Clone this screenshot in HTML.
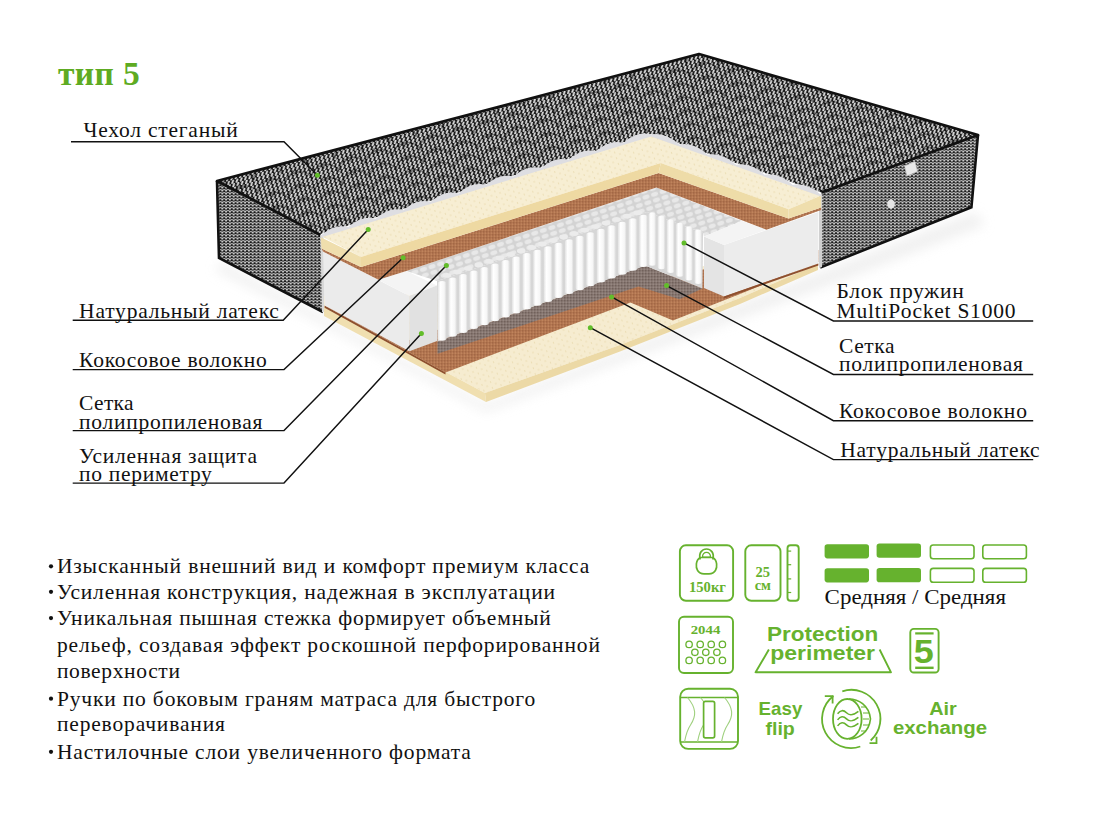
<!DOCTYPE html>
<html><head><meta charset="utf-8"><style>
html,body{margin:0;padding:0;background:#fff;}
body{width:1100px;height:814px;overflow:hidden;font-family:"Liberation Serif",serif;}
svg{display:block;}
</style></head><body>
<svg width="1100" height="814" viewBox="0 0 1100 814">
<rect width="1100" height="814" fill="#fff"/>

<defs>
 <pattern id="quilt" width="4.4" height="3.6" patternUnits="userSpaceOnUse" patternTransform="rotate(-15)">
  <rect width="4.4" height="3.6" fill="#161616"/>
  <path d="M0.9 3.0 L2.6 0.6" stroke="#dcdcdc" stroke-width="1.85" fill="none" stroke-linecap="round"/>
 </pattern>
 <pattern id="side" width="3.8" height="3.0" patternUnits="userSpaceOnUse">
  <rect width="3.8" height="3.0" fill="#181818"/>
  <path d="M0.6 0.4 L1.9 2.3 L3.2 0.4" stroke="#c8c8c8" stroke-width="1.02" fill="none" stroke-linecap="round"/>
 </pattern>
 <pattern id="scales" width="28" height="14" patternUnits="userSpaceOnUse" patternTransform="rotate(-15) translate(3,2)">
  <path d="M0,14 A14,11 0 0 1 28,14 M-14,7 A14,11 0 0 1 14,7 M14,7 A14,11 0 0 1 42,7" fill="none" stroke="#000" stroke-width="1.3"/>
 </pattern>
 <pattern id="sideR" width="3.8" height="3.0" patternUnits="userSpaceOnUse">
  <rect width="3.8" height="3.0" fill="#1c1c1c"/>
  <path d="M0.6 0.4 L1.9 2.3 L3.2 0.4" stroke="#c8c8c8" stroke-width="1.02" fill="none" stroke-linecap="round"/>
 </pattern>
 <pattern id="dots" width="9" height="6" patternUnits="userSpaceOnUse" patternTransform="rotate(-18)">
  <circle cx="2" cy="2" r="0.65" fill="#e6d6a8"/>
  <circle cx="6.5" cy="5" r="0.65" fill="#e6d6a8"/>
 </pattern>
 <pattern id="coco" width="3" height="3" patternUnits="userSpaceOnUse">
  <rect width="3" height="3" fill="#b27550"/>
  <circle cx="0.8" cy="0.8" r="0.65" fill="#935a3a"/>
  <circle cx="2.3" cy="2.1" r="0.6" fill="#cc9368"/>
 </pattern>
 <pattern id="mesh" width="3" height="3" patternUnits="userSpaceOnUse">
  <rect width="3" height="3" fill="#867670"/>
  <circle cx="0.8" cy="0.8" r="0.7" fill="#6a5a54"/>
  <circle cx="2.2" cy="2.2" r="0.6" fill="#a3958f"/>
 </pattern>
 <pattern id="sprtop" width="9" height="6" patternUnits="userSpaceOnUse" patternTransform="rotate(-18)">
  <rect width="9" height="6" fill="#d3d3d3"/>
  <ellipse cx="4.5" cy="3" rx="3.6" ry="2.3" fill="#e8e8e8"/>
 </pattern>
 <linearGradient id="col" x1="0" y1="0" x2="1" y2="0">
  <stop offset="0" stop-color="#e2e2e2"/>
  <stop offset="0.3" stop-color="#ffffff"/>
  <stop offset="0.75" stop-color="#f6f6f6"/>
  <stop offset="1" stop-color="#d6d6d6"/>
 </linearGradient>
 <filter id="blur" x="-20%" y="-20%" width="140%" height="140%"><feGaussianBlur stdDeviation="6"/></filter>
</defs>

<polygon points="222,262 323,316 486,404 820,272 975,212 985,225 830,285 486,412 323,325 215,270" fill="#e4e4e4" filter="url(#blur)" opacity="0.55"/>
<polygon points="217,181 699,54 978,135 821.5,192.5 651,134 320.5,234" fill="url(#quilt)" />
<polygon points="217,181 699,54 978,135 821.5,192.5 651,134 320.5,234" fill="url(#scales)" opacity="0.45"/>
<polygon points="217,181 320.5,235 323,312 219,258" fill="url(#side)" />
<polygon points="821.5,192.5 978,135 971.4,207.3 820.2,267.5" fill="url(#sideR)" />
<polyline points="320.5,235 217,181 699,54 978,135 821.5,192.5" fill="none" stroke="#111" stroke-width="2.7" stroke-linejoin="round"/>
<polyline points="217,181 219,258 323,312" fill="none" stroke="#111" stroke-width="2.6"/>
<polyline points="978,135 971.4,207.3 820.2,267.5" fill="none" stroke="#111" stroke-width="2.6"/>
<polygon points="904.5,166 915,161.5 917.5,171.5 907,176" fill="#e8e8e8" stroke="#bbb" stroke-width="0.6"/>
<ellipse cx="891" cy="204" rx="3.8" ry="4.6" fill="#e4e4e4"/>
<polygon points="320.5,234.5 323.5,236 325,312 322,312" fill="#d8d8d8" />
<polygon points="819,195 822,194 822,267 819,268" fill="#d0d0d0" />
<polygon points="324,296 324,307 485,393 620,345 740,298 818,264 818,240 600,290" fill="#f6ecd0" />
<polygon points="324,296 324,307 485,393 620,345 740,298 818,264 818,240 600,290" fill="url(#dots)" />
<polygon points="324,307 485,393 486,402 324,316" fill="#f0dfb0" />
<polygon points="485,393 620,345 740,298 818,264 818,270 740,304 620,351.6 486,402" fill="#ecd9a6" />
<polygon points="324.6,305.5 445.5,372.4 630.4,302.4 672.9,320.4 740,294 818.4,262 818.4,250 700,270 437,330 409.4,340" fill="url(#coco)" />
<polygon points="324.6,305.5 445.5,372.4 445.5,374.6 324.6,307.7" fill="#8e4f2e" />
<polygon points="437.5,341.5 645.1,265.5 702.4,288.5 679.5,299.3 638.5,286.4 437.5,353.8" fill="url(#mesh)" />
<polygon points="406.4,271 656.4,187.5 742,221 704,236.5 703,233 647,212 437,281" fill="url(#sprtop)" />
<polygon points="437,281 647,212 703,233 702.4,288.5 645.1,265.5 437.5,341.5" fill="#d6d6d6" />
<ellipse cx="447.0" cy="275.4" rx="4.3" ry="2.4" fill="#ececec"/>
<ellipse cx="457.6" cy="271.9" rx="4.3" ry="2.4" fill="#ececec"/>
<ellipse cx="468.2" cy="268.4" rx="4.3" ry="2.4" fill="#ececec"/>
<ellipse cx="478.8" cy="264.9" rx="4.3" ry="2.4" fill="#ececec"/>
<ellipse cx="489.4" cy="261.4" rx="4.3" ry="2.4" fill="#ececec"/>
<ellipse cx="500.0" cy="257.9" rx="4.3" ry="2.4" fill="#ececec"/>
<ellipse cx="510.6" cy="254.5" rx="4.3" ry="2.4" fill="#ececec"/>
<ellipse cx="521.2" cy="251.0" rx="4.3" ry="2.4" fill="#ececec"/>
<ellipse cx="531.8" cy="247.5" rx="4.3" ry="2.4" fill="#ececec"/>
<ellipse cx="542.4" cy="244.0" rx="4.3" ry="2.4" fill="#ececec"/>
<ellipse cx="553.0" cy="240.5" rx="4.3" ry="2.4" fill="#ececec"/>
<ellipse cx="563.6" cy="237.0" rx="4.3" ry="2.4" fill="#ececec"/>
<ellipse cx="574.2" cy="233.6" rx="4.3" ry="2.4" fill="#ececec"/>
<ellipse cx="584.8" cy="230.1" rx="4.3" ry="2.4" fill="#ececec"/>
<ellipse cx="595.4" cy="226.6" rx="4.3" ry="2.4" fill="#ececec"/>
<ellipse cx="606.0" cy="223.1" rx="4.3" ry="2.4" fill="#ececec"/>
<ellipse cx="616.6" cy="219.6" rx="4.3" ry="2.4" fill="#ececec"/>
<ellipse cx="627.2" cy="216.1" rx="4.3" ry="2.4" fill="#ececec"/>
<ellipse cx="637.8" cy="212.7" rx="4.3" ry="2.4" fill="#ececec"/>
<rect x="437.8" y="281.0" width="8.6" height="59.7" rx="4.3" ry="2.5" fill="url(#col)"/>
<rect x="448.4" y="277.5" width="8.6" height="59.3" rx="4.3" ry="2.5" fill="url(#col)"/>
<rect x="459.0" y="274.0" width="8.6" height="58.9" rx="4.3" ry="2.5" fill="url(#col)"/>
<rect x="469.6" y="270.6" width="8.6" height="58.5" rx="4.3" ry="2.5" fill="url(#col)"/>
<rect x="480.2" y="267.1" width="8.6" height="58.1" rx="4.3" ry="2.5" fill="url(#col)"/>
<rect x="490.8" y="263.6" width="8.6" height="57.7" rx="4.3" ry="2.5" fill="url(#col)"/>
<rect x="501.4" y="260.1" width="8.6" height="57.3" rx="4.3" ry="2.5" fill="url(#col)"/>
<rect x="512.0" y="256.6" width="8.6" height="56.9" rx="4.3" ry="2.5" fill="url(#col)"/>
<rect x="522.6" y="253.1" width="8.6" height="56.5" rx="4.3" ry="2.5" fill="url(#col)"/>
<rect x="533.2" y="249.7" width="8.6" height="56.1" rx="4.3" ry="2.5" fill="url(#col)"/>
<rect x="543.8" y="246.2" width="8.6" height="55.7" rx="4.3" ry="2.5" fill="url(#col)"/>
<rect x="554.4" y="242.7" width="8.6" height="55.3" rx="4.3" ry="2.5" fill="url(#col)"/>
<rect x="565.0" y="239.2" width="8.6" height="54.9" rx="4.3" ry="2.5" fill="url(#col)"/>
<rect x="575.6" y="235.7" width="8.6" height="54.5" rx="4.3" ry="2.5" fill="url(#col)"/>
<rect x="586.2" y="232.2" width="8.6" height="54.1" rx="4.3" ry="2.5" fill="url(#col)"/>
<rect x="596.8" y="228.8" width="8.6" height="53.7" rx="4.3" ry="2.5" fill="url(#col)"/>
<rect x="607.4" y="225.3" width="8.6" height="53.3" rx="4.3" ry="2.5" fill="url(#col)"/>
<rect x="618.0" y="221.8" width="8.6" height="52.9" rx="4.3" ry="2.5" fill="url(#col)"/>
<rect x="628.6" y="218.3" width="8.6" height="52.5" rx="4.3" ry="2.5" fill="url(#col)"/>
<rect x="639.2" y="214.8" width="8.6" height="52.1" rx="4.3" ry="2.5" fill="url(#col)"/>
<rect x="648.5" y="212.4" width="7.6" height="53.3" rx="3.8" ry="2.5" fill="url(#col)"/>
<rect x="657.7" y="215.8" width="7.6" height="53.5" rx="3.8" ry="2.5" fill="url(#col)"/>
<rect x="666.9" y="219.3" width="7.6" height="53.8" rx="3.8" ry="2.5" fill="url(#col)"/>
<rect x="676.1" y="222.7" width="7.6" height="54.0" rx="3.8" ry="2.5" fill="url(#col)"/>
<rect x="685.3" y="226.2" width="7.6" height="54.3" rx="3.8" ry="2.5" fill="url(#col)"/>
<rect x="694.5" y="229.6" width="7.6" height="54.5" rx="3.8" ry="2.5" fill="url(#col)"/>
<polygon points="323.1,251.6 409.4,295.9 409.4,351.2 324.6,305.5" fill="#ebebeb" />
<polygon points="378.4,279.7 406.4,271 437,285.5 409.4,295.9" fill="#f4f4f4" />
<polygon points="409.4,295.9 437,285.5 437,340.9 409.4,351.2" fill="#e1e1e1" />
<polygon points="704,236.5 724,245 724,296.6 704,288" fill="#e4e4e4" />
<polygon points="724,245 818.4,212 818.4,263.5 724,296.6" fill="#ececec" />
<polygon points="704,236.5 742,221 766.5,229.7 724,245" fill="#f4f4f4" />
<polygon points="724,296.6 818.4,263.5 818.4,265.5 724,298.6" fill="#8e4f2e" />
<polygon points="321.5,248.6 361,267.1 658.6,173 788.6,218.6 821.2,207.6 821.2,210 766.5,229.7 656.4,187.5 406.4,271 378.4,279.7 323,251.6" fill="url(#coco)" />
<polygon points="320.8,236 651,135 821.2,195.4 788.6,209.2 660.8,163.1 361,256.9" fill="#f7eed3" />
<polygon points="320.8,236 651,135 821.2,195.4 788.6,209.2 660.8,163.1 361,256.9" fill="url(#dots)" />
<polygon points="320.8,237.2 361,256.9 361,267.1 321.5,248.6" fill="#efdead" />
<polygon points="361,256.9 660.8,163.1 658.6,173 361,267.1" fill="#eed9a2" />
<polygon points="660.8,163.1 788.6,209.2 788.6,218.6 658.6,173" fill="#eedca8" />
<polygon points="788.6,209.2 821.2,195.4 821.2,207.6 788.6,218.6" fill="#efdead" />
<path d="M320.8,235.5 Q334.6,223.3 348.3,227.1 Q362.1,214.9 375.8,218.7 Q389.6,206.5 403.4,210.2 Q417.1,198.0 430.9,201.8 Q444.6,189.6 458.4,193.4 Q472.1,181.2 485.9,185.0 Q499.7,172.8 513.4,176.6 Q527.2,164.4 540.9,168.2 Q554.7,156.0 568.5,159.8 Q582.2,147.5 596.0,151.3 Q609.7,139.1 623.5,142.9 Q637.2,130.7 651.0,134.5 Q665.2,131.5 679.4,144.6 Q693.5,141.6 707.7,154.7 Q721.9,151.7 736.1,164.8 Q750.3,161.8 764.5,174.8 Q778.7,171.9 792.8,184.9 Q807.0,182.0 821.2,195.0 L821.2,196.5 L651,136.5 L320.8,237.5 Z" fill="#dedee2"/>
<polyline points="71,141.7 284,141.7 317.4,175.2" fill="none" stroke="#111" stroke-width="1.45"/>
<circle cx="317.4" cy="175.2" r="2.5" fill="#62bd2a"/>
<polyline points="72.7,320.2 283.2,320.2 368.2,229.5" fill="none" stroke="#111" stroke-width="1.45"/>
<circle cx="368.2" cy="229.5" r="2.5" fill="#62bd2a"/>
<polyline points="72.7,369.6 284,369.6 403.1,257.8" fill="none" stroke="#111" stroke-width="1.45"/>
<circle cx="403.1" cy="257.8" r="2.5" fill="#62bd2a"/>
<polyline points="72.7,430.6 284,430.6 446.4,265.5" fill="none" stroke="#111" stroke-width="1.45"/>
<circle cx="446.4" cy="265.5" r="2.5" fill="#62bd2a"/>
<polyline points="72.7,483.1 284,483.1 421.4,333.6" fill="none" stroke="#111" stroke-width="1.45"/>
<circle cx="421.4" cy="333.6" r="2.5" fill="#62bd2a"/>
<polyline points="1033.2,320.9 833.4,320.9 684,242.9" fill="none" stroke="#111" stroke-width="1.45"/>
<circle cx="684" cy="242.9" r="2.5" fill="#62bd2a"/>
<polyline points="1033.2,374.4 833.4,374.4 666.6,285.6" fill="none" stroke="#111" stroke-width="1.45"/>
<circle cx="666.6" cy="285.6" r="2.5" fill="#62bd2a"/>
<polyline points="1033.2,420.7 833.4,420.7 611.6,296.9" fill="none" stroke="#111" stroke-width="1.45"/>
<circle cx="611.6" cy="296.9" r="2.5" fill="#62bd2a"/>
<polyline points="1033.2,459.6 833.4,459.6 590.3,327.7" fill="none" stroke="#111" stroke-width="1.45"/>
<circle cx="590.3" cy="327.7" r="2.5" fill="#62bd2a"/>
<text x="57.9" y="84.8" font-family="Liberation Serif" font-size="33.5" font-weight="bold" fill="#5eab22" textLength="81.8" lengthAdjust="spacing">тип 5</text>
<text x="83.5" y="137" font-family="Liberation Serif" font-size="21.5" font-weight="normal" fill="#111" textLength="154.2" lengthAdjust="spacing">Чехол стеганый</text>
<text x="79.1" y="317.7" font-family="Liberation Serif" font-size="21.5" font-weight="normal" fill="#111" textLength="199.8" lengthAdjust="spacing">Натуральный латекс</text>
<text x="79.1" y="367.3" font-family="Liberation Serif" font-size="21.5" font-weight="normal" fill="#111" textLength="187.6" lengthAdjust="spacing">Кокосовое волокно</text>
<text x="79.1" y="409.8" font-family="Liberation Serif" font-size="21.5" font-weight="normal" fill="#111" textLength="54.5" lengthAdjust="spacing">Сетка</text>
<text x="79.1" y="428.6" font-family="Liberation Serif" font-size="21.5" font-weight="normal" fill="#111" textLength="183.2" lengthAdjust="spacing">полипропиленовая</text>
<text x="79.1" y="462.5" font-family="Liberation Serif" font-size="21.5" font-weight="normal" fill="#111" textLength="177.9" lengthAdjust="spacing">Усиленная защита</text>
<text x="79.1" y="480.6" font-family="Liberation Serif" font-size="21.5" font-weight="normal" fill="#111" textLength="132.7" lengthAdjust="spacing">по периметру</text>
<text x="836.5" y="298" font-family="Liberation Serif" font-size="21.5" font-weight="normal" fill="#111" textLength="127.2" lengthAdjust="spacing">Блок пружин</text>
<text x="836.5" y="317.9" font-family="Liberation Serif" font-size="21.5" font-weight="normal" fill="#111" textLength="178.9" lengthAdjust="spacing">MultiPocket S1000</text>
<text x="839" y="352.7" font-family="Liberation Serif" font-size="21.5" font-weight="normal" fill="#111" textLength="55.5" lengthAdjust="spacing">Сетка</text>
<text x="839" y="370.5" font-family="Liberation Serif" font-size="21.5" font-weight="normal" fill="#111" textLength="184" lengthAdjust="spacing">полипропиленовая</text>
<text x="839" y="417.6" font-family="Liberation Serif" font-size="21.5" font-weight="normal" fill="#111" textLength="187.9" lengthAdjust="spacing">Кокосовое волокно</text>
<text x="840.3" y="456.6" font-family="Liberation Serif" font-size="21.5" font-weight="normal" fill="#111" textLength="199.3" lengthAdjust="spacing">Натуральный латекс</text>
<text x="56.9" y="573.1" font-family="Liberation Serif" font-size="21.5" font-weight="normal" fill="#111" textLength="532.3" lengthAdjust="spacing">Изысканный внешний вид и комфорт премиум класса</text>
<circle cx="51" cy="566.3000000000001" r="2.1" fill="#111"/>
<text x="56.9" y="598.6" font-family="Liberation Serif" font-size="21.5" font-weight="normal" fill="#111" textLength="498.1" lengthAdjust="spacing">Усиленная конструкция, надежная в эксплуатации</text>
<circle cx="51" cy="591.8000000000001" r="2.1" fill="#111"/>
<text x="56.9" y="624.9" font-family="Liberation Serif" font-size="21.5" font-weight="normal" fill="#111" textLength="493.9" lengthAdjust="spacing">Уникальная пышная стежка формирует объемный</text>
<circle cx="51" cy="618.1" r="2.1" fill="#111"/>
<text x="56.9" y="652.0" font-family="Liberation Serif" font-size="21.5" font-weight="normal" fill="#111" textLength="543" lengthAdjust="spacing">рельеф, создавая эффект роскошной перфорированной</text>
<text x="56.9" y="678.2" font-family="Liberation Serif" font-size="21.5" font-weight="normal" fill="#111" textLength="123" lengthAdjust="spacing">поверхности</text>
<text x="56.9" y="705.5" font-family="Liberation Serif" font-size="21.5" font-weight="normal" fill="#111" textLength="478.3" lengthAdjust="spacing">Ручки по боковым граням матраса для быстрого</text>
<circle cx="51" cy="698.7" r="2.1" fill="#111"/>
<text x="56.9" y="731.4" font-family="Liberation Serif" font-size="21.5" font-weight="normal" fill="#111" textLength="168" lengthAdjust="spacing">переворачивания</text>
<text x="56.9" y="758.6" font-family="Liberation Serif" font-size="21.5" font-weight="normal" fill="#111" textLength="414" lengthAdjust="spacing">Настилочные слои увеличенного формата</text>
<circle cx="51" cy="751.8000000000001" r="2.1" fill="#111"/>
<rect x="679.9" y="545.3" width="53.2" height="55.5" rx="6" fill="none" stroke="#66b22e" stroke-width="1.9"/>
<path d="M700.2,559.5 C696.5,545.5 716.5,545.5 712.8,559.5" fill="none" stroke="#66b22e" stroke-width="1.7"/>
<path d="M702.6,557.2 C701.8,550.8 711.2,550.8 710.4,557.2 Z" fill="none" stroke="#66b22e" stroke-width="1.3"/>
<path d="M700.2,557.5 C695.5,560 695.6,567.5 697.6,570.5 C699,572.8 701.5,573.8 704,573.8 L709,573.8 C711.5,573.8 714,572.8 715.4,570.5 C717.4,567.5 717.5,560 712.8,557.5 Z" fill="none" stroke="#66b22e" stroke-width="1.7"/>
<text x="689" y="591.6" font-family="Liberation Serif" font-weight="bold" font-size="14.5" fill="#66b22e" textLength="37" lengthAdjust="spacingAndGlyphs">150кг</text>
<rect x="745.3" y="545.3" width="35.2" height="55.5" rx="6" fill="none" stroke="#66b22e" stroke-width="1.9"/>
<text x="762.8" y="576.8" font-family="Liberation Serif" font-weight="bold" font-size="14.5" fill="#66b22e" text-anchor="middle">25</text>
<text x="762.8" y="589.8" font-family="Liberation Serif" font-weight="bold" font-size="14.5" fill="#66b22e" text-anchor="middle">см</text>
<rect x="787.5" y="545.3" width="11.2" height="55.5" rx="3" fill="none" stroke="#66b22e" stroke-width="1.9"/>
<line x1="788" y1="551.1" x2="791.2" y2="551.1" stroke="#66b22e" stroke-width="1.2"/>
<line x1="788" y1="564.7" x2="791.2" y2="564.7" stroke="#66b22e" stroke-width="1.2"/>
<line x1="788" y1="578.9" x2="791.2" y2="578.9" stroke="#66b22e" stroke-width="1.2"/>
<line x1="788" y1="592.5" x2="791.2" y2="592.5" stroke="#66b22e" stroke-width="1.2"/>
<rect x="824.6" y="544.2" width="44.4" height="14.2" rx="2.8" fill="#66b22e"/>
<rect x="876.6" y="543.6" width="44.4" height="14.2" rx="2.8" fill="#66b22e"/>
<rect x="930.4" y="545.0" width="43.6" height="13.8" rx="2.8" fill="none" stroke="#66b22e" stroke-width="1.6"/>
<rect x="982.8" y="545.0" width="43.6" height="13.8" rx="2.8" fill="none" stroke="#66b22e" stroke-width="1.6"/>
<rect x="824.6" y="568.2" width="44.4" height="14.2" rx="2.8" fill="#66b22e"/>
<rect x="876.6" y="568" width="44.4" height="14.2" rx="2.8" fill="#66b22e"/>
<rect x="930.4" y="568.4" width="43.6" height="13.8" rx="2.8" fill="none" stroke="#66b22e" stroke-width="1.6"/>
<rect x="982.8" y="568.4" width="43.6" height="13.8" rx="2.8" fill="none" stroke="#66b22e" stroke-width="1.6"/>
<text x="824.6" y="604" font-family="Liberation Serif" font-size="20" fill="#111" textLength="181.4" lengthAdjust="spacingAndGlyphs">Средняя / Средняя</text>
<rect x="679" y="616.8" width="54" height="56.2" rx="5" fill="none" stroke="#66b22e" stroke-width="1.9"/>
<text x="690.7" y="634" font-family="Liberation Serif" font-weight="bold" font-size="13.5" fill="#66b22e" textLength="29.7" lengthAdjust="spacingAndGlyphs">2044</text>
<circle cx="689.1" cy="644.4" r="3.2" fill="none" stroke="#66b22e" stroke-width="1.3"/>
<circle cx="700.2" cy="644.4" r="3.2" fill="none" stroke="#66b22e" stroke-width="1.3"/>
<circle cx="711.2" cy="644.4" r="3.2" fill="none" stroke="#66b22e" stroke-width="1.3"/>
<circle cx="722.4" cy="644.4" r="3.2" fill="none" stroke="#66b22e" stroke-width="1.3"/>
<circle cx="694.9" cy="652.3" r="3.2" fill="none" stroke="#66b22e" stroke-width="1.3"/>
<circle cx="705.8" cy="652.3" r="3.2" fill="none" stroke="#66b22e" stroke-width="1.3"/>
<circle cx="716.9" cy="652.3" r="3.2" fill="none" stroke="#66b22e" stroke-width="1.3"/>
<circle cx="689.1" cy="660.4" r="3.2" fill="none" stroke="#66b22e" stroke-width="1.3"/>
<circle cx="700.2" cy="660.4" r="3.2" fill="none" stroke="#66b22e" stroke-width="1.3"/>
<circle cx="711.2" cy="660.4" r="3.2" fill="none" stroke="#66b22e" stroke-width="1.3"/>
<circle cx="722.4" cy="660.4" r="3.2" fill="none" stroke="#66b22e" stroke-width="1.3"/>
<path d="M768.9,649.5 L755.6,672.3 L891,672.3 L879.6,649.5" fill="none" stroke="#66b22e" stroke-width="1.9" stroke-linejoin="round"/>
<text x="767" y="641.1" font-family="Liberation Sans" font-weight="bold" font-size="21" fill="#66b22e" textLength="111.3" lengthAdjust="spacingAndGlyphs">Protection</text>
<text x="770.2" y="659.6" font-family="Liberation Sans" font-weight="bold" font-size="21" fill="#66b22e" textLength="104.9" lengthAdjust="spacingAndGlyphs">perimeter</text>
<rect x="910.3" y="628.9" width="28.3" height="43.6" rx="3.5" fill="none" stroke="#66b22e" stroke-width="1.9"/>
<rect x="915.2" y="632.3" width="18.4" height="2.2" fill="#66b22e"/>
<rect x="915.2" y="666.6" width="18.4" height="2.4" fill="#66b22e"/>
<text x="923.8" y="662.8" font-family="Liberation Sans" font-weight="bold" font-size="34" fill="#66b22e" text-anchor="middle" textLength="20" lengthAdjust="spacingAndGlyphs">5</text>
<rect x="680.2" y="688.8" width="57.8" height="60.1" rx="8" fill="none" stroke="#66b22e" stroke-width="1.9"/>
<line x1="680.2" y1="697.5" x2="738" y2="697.5" stroke="#66b22e" stroke-width="1.7"/>
<line x1="680.2" y1="742" x2="738" y2="742" stroke="#66b22e" stroke-width="1.7"/>
<path d="M687.5,697.5 C696.5,708 696.5,716 690.5,725 C686.5,731 685.5,737 684.5,742" fill="none" stroke="#9fd07e" stroke-width="1.1"/>
<path d="M700.5,697.5 C709.5,708 709.5,716 703.5,725 C699.5,731 698.5,737 697.5,742" fill="none" stroke="#9fd07e" stroke-width="1.1"/>
<path d="M724.5,697.5 C733.5,708 733.5,716 727.5,725 C723.5,731 722.5,737 721.5,742" fill="none" stroke="#9fd07e" stroke-width="1.1"/>
<rect x="703.6" y="701.3" width="11" height="36.6" rx="1.8" fill="#fff" stroke="#66b22e" stroke-width="1.7"/>
<text x="758.6" y="714.8" font-family="Liberation Sans" font-weight="bold" font-size="18.5" fill="#66b22e" textLength="43.7" lengthAdjust="spacingAndGlyphs">Easy</text>
<text x="765.5" y="735.2" font-family="Liberation Sans" font-weight="bold" font-size="18.5" fill="#66b22e" textLength="29.3" lengthAdjust="spacingAndGlyphs">flip</text>
<path d="M842.3,691.3 A29.0,29.0 0 0 1 870.7,740.5" fill="none" stroke="#66b22e" stroke-width="1.8"/>
<path d="M860.3,746.5 A29.0,29.0 0 0 1 833.4,696.0" fill="none" stroke="#66b22e" stroke-width="1.8"/>
<path d="M824.8,696.2 L832.6,696.2 L832.6,703.5" fill="none" stroke="#66b22e" stroke-width="1.8"/>
<path d="M876.5,736.8 L876.5,743.2 L869.5,743.2" fill="none" stroke="#66b22e" stroke-width="1.8"/>
<path d="M849,699 C858,699 869,705 870.5,718.9 C869,733 858,739 849,739" fill="none" stroke="#66b22e" stroke-width="1.6"/>
<ellipse cx="847.3" cy="718.9" rx="14.3" ry="19.9" fill="#fff" stroke="#66b22e" stroke-width="1.8"/>
<line x1="861" y1="707.0" x2="866" y2="707.0" stroke="#66b22e" stroke-width="1"/>
<line x1="863" y1="713.0" x2="869" y2="713.0" stroke="#66b22e" stroke-width="1"/>
<line x1="863" y1="719.0" x2="869" y2="719.0" stroke="#66b22e" stroke-width="1"/>
<line x1="863" y1="725.0" x2="869" y2="725.0" stroke="#66b22e" stroke-width="1"/>
<line x1="861" y1="731.0" x2="866" y2="731.0" stroke="#66b22e" stroke-width="1"/>
<path d="M837.6,713.8 C840.5,709.8 843.5,709.8 846.5,712.8 C849.5,715.8 852.5,715.8 858.4,711.3" fill="none" stroke="#66b22e" stroke-width="1.6"/>
<path d="M837.6,719.9 C840.5,715.9 843.5,715.9 846.5,718.9 C849.5,721.9 852.5,721.9 858.4,717.4" fill="none" stroke="#66b22e" stroke-width="1.6"/>
<path d="M837.6,725.9 C840.5,721.9 843.5,721.9 846.5,724.9 C849.5,727.9 852.5,727.9 858.4,723.4" fill="none" stroke="#66b22e" stroke-width="1.6"/>
<text x="929.2" y="715.4" font-family="Liberation Sans" font-weight="bold" font-size="17.5" fill="#66b22e" textLength="27.6" lengthAdjust="spacingAndGlyphs">Air</text>
<text x="892.9" y="734.4" font-family="Liberation Sans" font-weight="bold" font-size="17.5" fill="#66b22e" textLength="94.1" lengthAdjust="spacingAndGlyphs">exchange</text>
</svg>
</body></html>
